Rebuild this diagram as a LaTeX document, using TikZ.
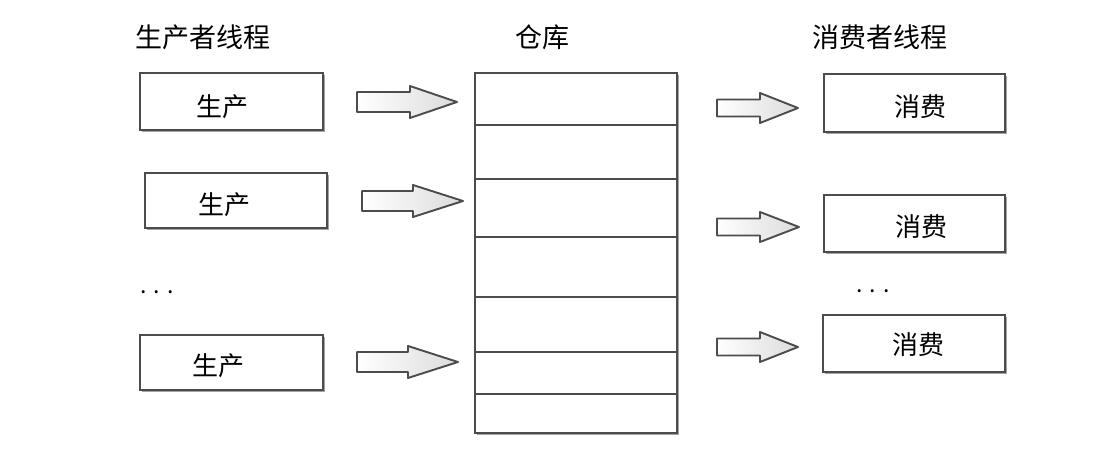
\documentclass[tikz,border=0pt]{standalone}
\usepackage{fontspec}
\newfontfamily\cjk{Noto Sans CJK SC}
\usetikzlibrary{shadows}
\begin{document}
\begin{tikzpicture}[x=1pt,y=-1pt,
  title/.style={font=\cjk\fontsize{27}{30}\selectfont, inner sep=0pt},
  boxtext/.style={font=\cjk\fontsize{26}{30}\selectfont, inner sep=0pt},
  dots/.style={font=\cjk\fontsize{23}{26}\selectfont, inner sep=0pt},
  threadbox/.style={draw=black!70, line width=2.2pt, fill=white, inner sep=0pt,
    drop shadow={shadow xshift=1.8pt, shadow yshift=-1.8pt, fill=black!45, opacity=0.8}},
  store/.style={draw=black!70, line width=2.2pt, fill=white, inner sep=0pt,
    minimum width=202, minimum height=360,
    drop shadow={shadow xshift=1.8pt, shadow yshift=-1.8pt, fill=black!45, opacity=0.8}},
  slot/.style={draw=black!70, line width=2pt},
  arrowline/.style={draw=black!70, line width=1.9pt, line join=round,
    left color=white, middle color=white, right color=black!14},
  pics/blkarrow/.style n args={4}{code={
    \draw[arrowline] (0,-#3) -- (#1,-#3) -- (#1,-#4) -- ({#1+#2},0)
      -- (#1,#4) -- (#1,#3) -- (0,#3) -- cycle;
  }}
]
\useasboundingbox (0,0) rectangle (1098,455);

% titles
\node[title] (tp) at (203,37) {生产者线程};
\node[title] (tw) at (542,37) {仓库};
\node[title] (tc) at (880,37) {消费者线程};

% producer boxes
\node[threadbox, minimum width=183, minimum height=57] (p1) at (231.5,101.5) {};
\node[threadbox, minimum width=182, minimum height=55] (p2) at (236,200.5) {};
\node[threadbox, minimum width=183, minimum height=55] (p3) at (231.5,362.5) {};
\node[boxtext] (p1t) at (222,107) {生产};
\node[boxtext] (p2t) at (224,205) {生产};
\node[boxtext] (p3t) at (218,366) {生产};
\node[dots] (pd) at (157,292) {. . .};

% producer arrows
\pic (pa1) at (357,102) {blkarrow={53}{47}{10}{16}};
\pic (pa2) at (362,201) {blkarrow={51}{50}{10}{16}};
\pic (pa3) at (357,362) {blkarrow={51}{50}{10}{16}};

% warehouse
\node[store] (wh) at (576,253) {};
\foreach \yy in {125,179,237,297,352,394}
  \draw[slot] (wh.west |- 0,\yy) -- (wh.east |- 0,\yy);

% consumer arrows
\pic (ca1) at (717,108) {blkarrow={43}{38}{8.5}{15}};
\pic (ca2) at (717,227) {blkarrow={43}{39}{8.5}{15}};
\pic (ca3) at (717,347) {blkarrow={43}{38}{8.5}{15}};

% consumer boxes
\node[threadbox, minimum width=181, minimum height=58] (c1) at (914.5,103) {};
\node[threadbox, minimum width=181, minimum height=57] (c2) at (914.5,223.5) {};
\node[threadbox, minimum width=182, minimum height=57] (c3) at (914,343.5) {};
\node[boxtext] (c1t) at (920,107) {消费};
\node[boxtext] (c2t) at (921,227) {消费};
\node[boxtext] (c3t) at (918,345) {消费};
\node[dots] (cd) at (873,291) {. . .};
\end{tikzpicture}
\end{document}
